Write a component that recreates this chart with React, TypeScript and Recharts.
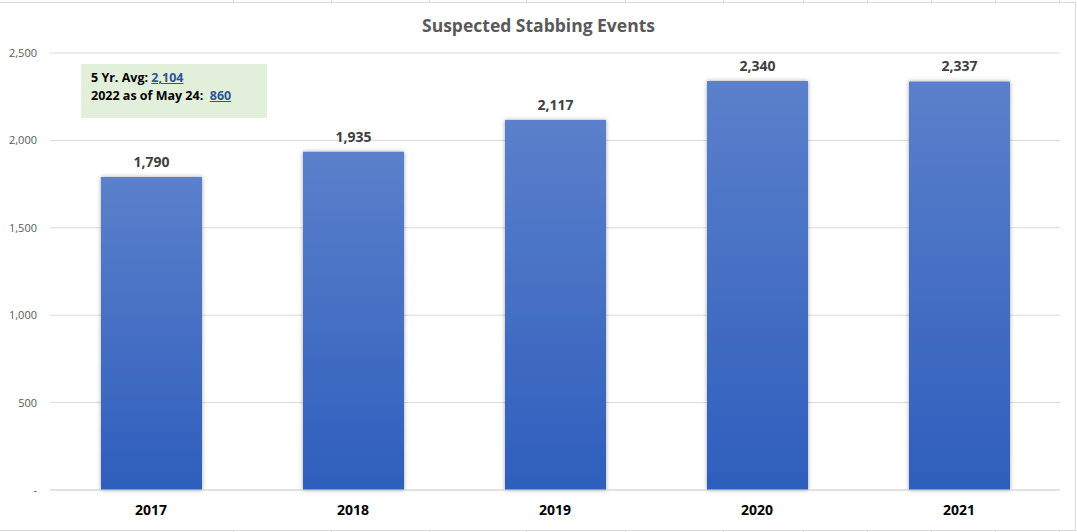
import { BarChart, Bar, XAxis, YAxis, CartesianGrid, LabelList } from 'recharts'

// ── Data ──────────────────────────────────────────────────────────────────────

const YEARS = ['2017', '2018', '2019', '2020', '2021']
const EVENTS = [1790, 1935, 2117, 2340, 2337]
const Y_TICKS = [0, 500, 1000, 1500, 2000, 2500]
const AVG_5YR = 2104
const YTD_2022 = 860

// Excel sheet cell borders peeking out above / below the chart object
const CELL_LINES = [233, 331, 429, 526, 625, 723, 803, 867, 931, 995, 1059]

const data = YEARS.map((year, i) => ({ year, events: EVENTS[i] }))

// ── Style tokens ──────────────────────────────────────────────────────────────

const FONT = '"Open Sans", Calibri, sans-serif'
const GRID = '#D9D9D9'
const BLUE_TOP = '#5B80CB'
const BLUE_BOTTOM = '#2E5EBC'

const fmt = (v: number) => (v === 0 ? '-' : v.toLocaleString('en-US'))

export default function App() {
  return (
    <div
      style={{
        position: 'absolute',
        top: 0,
        left: 0,
        width: 1077,
        height: 532,
        background: '#fff',
        fontFamily: FONT,
        overflow: 'hidden',
      }}
    >
      {CELL_LINES.map((x) => (
        <div key={x} style={{ position: 'absolute', left: x, top: 0, width: 1, height: 532, background: GRID }} />
      ))}

      {/* chart object frame */}
      <div
        style={{
          position: 'absolute',
          left: -2,
          top: 2,
          width: 1076,
          height: 527,
          background: '#fff',
          border: `1px solid ${GRID}`,
        }}
      />

      <div
        style={{
          position: 'absolute',
          top: 13,
          left: 0,
          width: 1077,
          textAlign: 'center',
          fontSize: 17.5,
          fontWeight: 700,
          color: '#595959',
        }}
      >
        Suspected Stabbing Events
      </div>

      <div style={{ position: 'absolute', top: 0, left: 0 }}>
        <BarChart
          width={1077}
          height={532}
          data={data}
          margin={{ top: 53, right: 17, left: 0, bottom: 0 }}
          barSize={101}
        >
          <defs>
            <linearGradient id="barFill" x1="0" y1="0" x2="0" y2="1">
              <stop offset="0%" stopColor={BLUE_TOP} />
              <stop offset="100%" stopColor={BLUE_BOTTOM} />
            </linearGradient>
            <filter id="barShadow" x="-10%" y="-5%" width="120%" height="110%">
              <feDropShadow dx="0" dy="0" stdDeviation="2" floodColor="#000" floodOpacity="0.35" />
            </filter>
          </defs>
          <CartesianGrid stroke={GRID} vertical={false} />
          <XAxis
            dataKey="year"
            height={42}
            tickLine={false}
            axisLine={{ stroke: GRID }}
            tickMargin={9}
            tick={{ fontSize: 14, fontWeight: 700, fill: '#000', fontFamily: FONT }}
          />
          <YAxis
            width={50}
            domain={[0, 2500]}
            ticks={Y_TICKS}
            tickFormatter={fmt}
            tickLine={false}
            axisLine={false}
            tickMargin={7}
            tick={{ fontSize: 11, fill: '#595959', fontFamily: FONT }}
          />
          <Bar dataKey="events" fill="url(#barFill)" filter="url(#barShadow)" isAnimationActive={false}>
            <LabelList
              dataKey="events"
              position="top"
              offset={10}
              formatter={(v: any) => fmt(Number(v))}
              style={{ fontSize: 14, fontWeight: 700, fill: '#404040', fontFamily: FONT }}
            />
          </Bar>
        </BarChart>
      </div>

      {/* summary call-out */}
      <div
        style={{
          position: 'absolute',
          left: 81,
          top: 64,
          width: 186,
          height: 54,
          background: '#E2EFDA',
          boxSizing: 'border-box',
          padding: '5px 0 0 10px',
          fontSize: 12.5,
          fontWeight: 700,
          color: '#000',
          lineHeight: '18px',
        }}
      >
        <div>
          5 Yr. Avg:{' '}
          <span style={{ color: '#2F5597', textDecoration: 'underline' }}>{fmt(AVG_5YR)}</span>
        </div>
        <div>
          2022 as of May 24:&nbsp;{' '}
          <span style={{ color: '#2F5597', textDecoration: 'underline' }}>{fmt(YTD_2022)}</span>
        </div>
      </div>
    </div>
  )
}
